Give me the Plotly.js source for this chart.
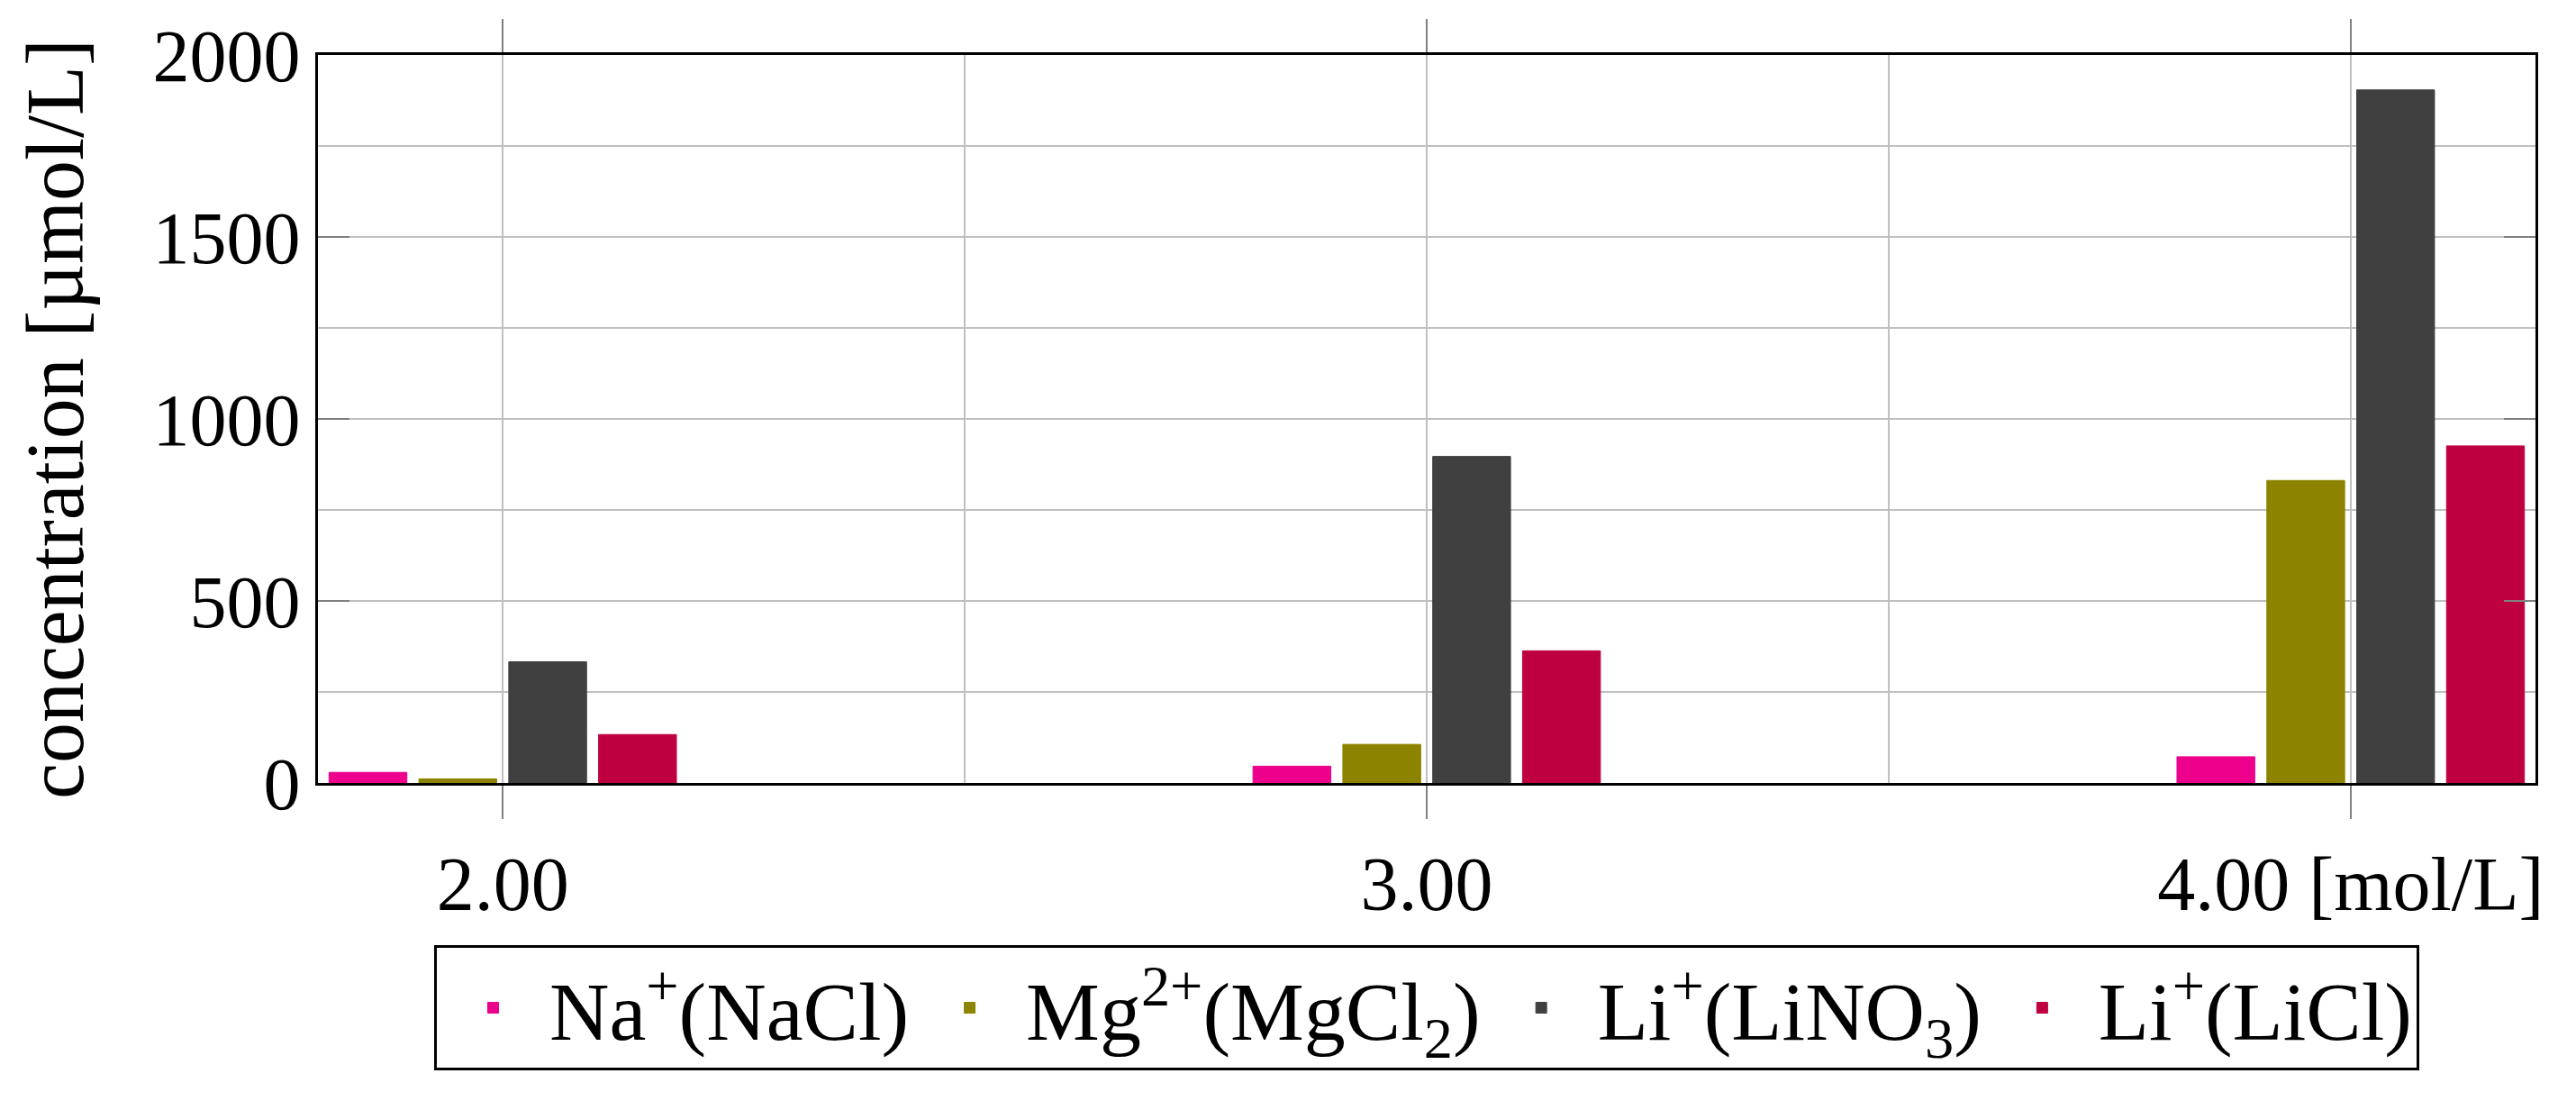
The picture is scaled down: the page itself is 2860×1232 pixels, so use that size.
<!DOCTYPE html>
<html>
<head>
<meta charset="utf-8">
<script src="https://cdn.plot.ly/plotly-3.0.1.min.js"></script>
<style>
  html, body { margin: 0; padding: 0; background: #fff; }
  #chart { width: 2860px; height: 1232px; }
</style>
</head>
<body>
<div id="chart"></div>
<script>
// salt concentration of the feed [mol/L]
var concentrations = [2, 3, 4];
var tickLabels = ['2.00', '3.00', '4.00 [mol/L]'];

// measured ion concentrations [umol/L]
var naNaCl = [29, 46, 72];
var mgMgCl2 = [11, 106, 831];
var liLiNO3 = [333, 897, 1904];
var liLiCl = [133, 363, 926];

var seriesNames = [
  'Na<sup>+</sup>(NaCl)',
  'Mg<sup>2+</sup>(MgCl<sub>2</sub>)',
  'Li<sup>+</sup>(LiNO<sub>3</sub>)',
  'Li<sup>+</sup>(LiCl)'
];
var seriesColors = ['#ec008c', '#8c8400', '#404040', '#be0040'];

var fontFamily = '"Liberation Serif", "DejaVu Serif", serif';

function makeBar(values, idx) {
  return {
    x: concentrations,
    y: values,
    name: seriesNames[idx],
    type: 'bar',
    marker: {
      color: seriesColors[idx],
      line: { color: seriesColors[idx], width: 1 }
    }
  };
}

var data = [
  makeBar(naNaCl, 0),
  makeBar(mgMgCl2, 1),
  makeBar(liLiNO3, 2),
  makeBar(liLiCl, 3)
];

var layout = {
  width: 2860,
  height: 1232,
  margin: { l: 353, r: 45, t: 61, b: 363 },
  paper_bgcolor: '#ffffff',
  plot_bgcolor: '#ffffff',
  font: { family: fontFamily, size: 82, color: '#000000' },
  barmode: 'group',
  bargap: 0.611,
  bargroupgap: 0.134,
  showlegend: true,
  legend: {
    orientation: 'h',
    x: 0.5,
    xanchor: 'center',
    y: -0.223,
    yanchor: 'top',
    bordercolor: '#000000',
    borderwidth: 3,
    bgcolor: '#ffffff',
    itemwidth: 115,
    font: { family: fontFamily, size: 92, color: '#000000' },
    traceorder: 'normal'
  },
  xaxis: {
    range: [1.8, 4.2],
    tickmode: 'array',
    tickvals: concentrations,
    ticktext: tickLabels,
    ticks: 'outside',
    ticklen: 37,
    tickwidth: 2,
    tickcolor: '#808080',
    showline: true,
    linecolor: '#000000',
    linewidth: 3,
    mirror: 'ticks',
    showgrid: true,
    gridcolor: '#c0c0c0',
    gridwidth: 2,
    zeroline: false,
    minor: {
      tickmode: 'linear',
      tick0: 0,
      dtick: 0.5,
      showgrid: true,
      gridcolor: '#c0c0c0',
      gridwidth: 2
    },
    tickfont: { family: fontFamily, size: 84, color: '#000000' }
  },
  yaxis: {
    range: [0, 2000],
    tickmode: 'linear',
    tick0: 0,
    dtick: 500,
    ticks: 'inside',
    ticklen: 35,
    tickwidth: 2,
    tickcolor: '#808080',
    showline: true,
    linecolor: '#000000',
    linewidth: 3,
    mirror: 'ticks',
    showgrid: true,
    gridcolor: '#c0c0c0',
    gridwidth: 2,
    zeroline: false,
    minor: {
      tickmode: 'linear',
      tick0: 0,
      dtick: 250,
      showgrid: true,
      gridcolor: '#c0c0c0',
      gridwidth: 2
    },
    tickfont: { family: fontFamily, size: 82, color: '#000000' },
    title: {
      text: 'concentration [µmol/L]',
      font: { family: fontFamily, size: 90, color: '#000000' },
      standoff: 48
    }
  }
};

Plotly.newPlot('chart', data, layout, { displayModeBar: false, staticPlot: true });
</script>
</body>
</html>
